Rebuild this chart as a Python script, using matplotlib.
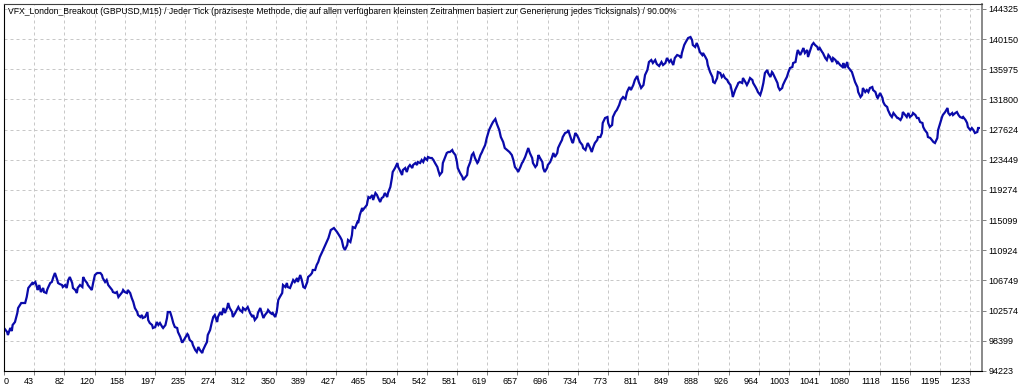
import numpy as np
import matplotlib
matplotlib.use('Agg')
import matplotlib.pyplot as plt

title = ("VFX_London_Breakout (GBPUSD,M15) / Jeder Tick (präziseste Methode, die auf allen "
         "verfügbaren kleinsten Zeitrahmen basiert zur Generierung jedes Ticksignals) / 90.00%")

x_labels = ['0', '43', '82', '120', '158', '197', '235', '274', '312', '350', '389', '427',
            '465', '504', '542', '581', '619', '657', '696', '734', '773', '811', '849', '888',
            '926', '964', '1003', '1041', '1080', '1118', '1156', '1195', '1233']
y_levels = [94223, 98399, 102574, 106749, 110924, 115099, 119274, 123449,
            127624, 131800, 135975, 140150, 144325]

# balance curve (trade number, balance)
trade_no = [
    0, 4, 5, 8, 10, 11, 14, 17, 18, 22, 24, 27, 29, 31, 33, 36, 37, 40, 42, 43, 45, 47, 50, 51, 54,
    55, 56, 59, 61, 63, 65, 68, 69, 71, 74, 75, 78, 80, 82, 84, 87, 88, 91, 93, 94, 97, 100, 101,
    103, 106, 107, 110, 112, 114, 116, 119, 123, 125, 126, 129, 131, 133, 135, 138, 139, 142, 144,
    146, 148, 151, 152, 154, 157, 158, 161, 163, 165, 167, 170, 171, 174, 176, 177, 180, 183, 184,
    186, 189, 190, 193, 195, 197, 199, 202, 203, 206, 208, 209,
    212, 214, 216, 218, 221, 222, 225, 227, 228, 231, 234, 235, 237, 240, 241, 244, 246, 248, 250,
    253, 254, 257, 259, 260, 263, 265, 267, 269, 272, 273, 276, 278, 280, 282, 285, 286, 288, 291,
    292, 295, 297, 299, 301, 304, 305, 308, 310, 311, 314, 317, 318, 320, 323, 324, 327, 329, 331,
    333, 336, 337, 340, 342, 343, 346, 348, 350, 352, 355, 356, 359, 361, 362, 365, 368, 369, 371,
    374, 375, 378, 380, 382, 384, 387, 388, 391, 393, 394, 397, 399, 401, 403,
    406, 410, 414, 417, 421, 425,
    429, 431, 433, 435, 438, 439, 442, 444, 445, 448, 451, 452, 454, 457, 458, 461, 463, 465, 467,
    470, 471, 474, 476, 477, 480, 482, 484, 486, 489, 490, 493, 495, 496, 499, 502, 503, 505, 508,
    509, 512, 514, 516, 518, 521, 522, 525, 527, 528, 531, 533, 535, 537, 540, 541, 544, 546, 548,
    550, 553, 554, 556, 559, 560, 563, 565, 567, 569, 572, 573, 576, 578, 579, 582, 585, 586, 588,
    591, 592, 595, 597, 599, 601, 604, 605, 608, 610, 611,
    614, 616, 619, 622, 624, 627, 629, 632, 634, 637, 639, 642, 645,
    648, 650, 652, 655, 656, 659, 661, 662, 665, 668, 669, 671, 674, 675, 678, 680, 682, 684, 687,
    688, 690, 693, 694, 697, 699, 701, 703, 706, 707, 710, 712, 713, 716, 719, 720, 722, 725, 726,
    729, 731, 733, 735, 738, 739, 742, 744, 745, 748, 750, 752, 754, 757, 758, 761, 763, 764, 767,
    770, 771, 773, 776, 777, 780, 782,
    785, 787, 790, 793, 795, 798, 800, 803, 805, 808, 810, 813, 816, 818, 821, 823, 826, 828, 831,
    833, 836, 839, 841, 844, 846, 849, 851, 854, 856, 859, 862,
    864, 865, 868, 870, 873, 876, 878, 879, 882, 884, 886, 888, 891, 892, 895, 897, 898, 901, 904,
    905, 907, 910, 911, 914, 916, 918, 920, 923, 924, 927, 929, 930, 933, 936, 937, 939, 942, 943,
    946, 948, 950, 952, 955, 956, 959, 961, 962, 965, 967, 969, 971, 974, 975, 978, 980, 981, 984,
    987, 988, 990, 993, 994, 997, 999, 1001, 1003, 1006, 1007, 1010, 1012, 1013, 1016, 1019, 1020,
    1022, 1025, 1026, 1029, 1031, 1033, 1035, 1038, 1039, 1041, 1044, 1045, 1048, 1050, 1052, 1054,
    1057, 1058, 1061, 1063, 1064, 1067, 1070, 1071, 1073, 1076, 1077, 1080,
    1082, 1084, 1086, 1089, 1090, 1093, 1095, 1096, 1099, 1101, 1103, 1105, 1108, 1109, 1112, 1114,
    1115, 1118, 1121, 1122, 1124, 1127, 1128, 1131, 1133, 1135, 1137, 1140, 1141, 1144, 1146, 1147,
    1150, 1152, 1154, 1156, 1159, 1160, 1163, 1165, 1167, 1169, 1172, 1173, 1175, 1178, 1179, 1182,
    1184, 1186, 1188, 1191, 1192, 1195, 1197, 1198, 1201, 1204, 1205, 1207, 1210, 1211, 1214, 1216,
    1218, 1220, 1223, 1224, 1227, 1229, 1230, 1233, 1235, 1237, 1239, 1242, 1243, 1244,
]

balance = [
    100173, 99619, 99204, 100173, 99758, 100588, 101003, 102249, 102941, 103633, 103633, 103633,
    104463, 105709, 105986, 106401, 106262, 106539, 105847, 105432, 106124, 105155, 105709, 105155,
    105017, 105432, 105709, 106401, 106539, 107231, 107785, 106816, 106401, 106262, 106124, 105847,
    106124, 105709, 106816, 107231, 106401, 105709, 105432, 105017, 105709, 106124, 105847, 107231,
    106816, 106401, 106124, 105709, 105432, 106539, 107508, 107785, 107785, 107508, 107093, 106539,
    106816, 106124, 105847, 105432, 105155, 105017, 105155, 104463, 104740, 105155, 105432, 105155,
    105017, 105432, 105017, 104325, 103771, 102941, 102387, 101972, 101695, 101972, 101557, 101695,
    102387, 101280, 100865, 100588, 100173, 100311, 101003, 100588, 100865, 100311, 100173, 100588,
    101557, 102387,
    102387, 101695, 100865, 100311, 100173, 99619, 98927, 98235, 98235, 98789, 99342, 99204, 98512,
    98235, 97820, 97128, 96851, 97543, 97128, 96713, 97128, 97820, 98235, 99204, 99896, 100865,
    101695, 101972, 101003, 101695, 102387, 101972, 102941, 102249, 103079, 103633, 102941, 102387,
    101695, 102249, 102664, 103079, 102664, 102387, 102941, 102664, 102941, 103079, 102249, 101695,
    101972, 101280, 101695, 102249, 102941, 102249, 101557, 101972, 102387, 102664, 102249, 102110,
    102249, 101695, 102387, 104048, 104463, 105017, 106124, 105847, 106401, 105847, 105709, 106539,
    106816, 106539, 107093, 106539, 107508, 106816, 105847, 105709, 106539, 107231, 107508, 107785,
    108200, 108200, 108892, 109307, 109999,
    110691, 111660, 112629, 113736, 114013, 113459,
    112767, 112352, 111383, 110968, 111660, 112352, 112075, 113044, 114151, 114013, 114843, 114705,
    115812, 116781, 116504, 116919, 117196, 118303, 118165, 118580, 117888, 118857, 118580, 118303,
    117611, 118165, 118303, 118857, 118303, 118857, 119687, 120933, 121763, 122317, 123009, 122455,
    122040, 121348, 122040, 122317, 121763, 122455, 122732, 122317, 122732, 123009, 122732, 123147,
    123009, 123424, 123147, 123701, 123424, 123839, 123701, 123701, 123424, 123009, 122455, 122040,
    121348, 121763, 123009, 123839, 124393, 124531, 124531, 124808, 124531, 124116, 123147, 122317,
    121625, 121071, 120656, 120933, 121348, 122317, 123147, 124116, 124393, 123701, 123009, 123147,
    124116, 124531, 124808,
    125500, 126469, 127576, 128268, 128683, 129098, 128406, 127576, 126607, 125915, 125085, 124808,
    124531,
    124116, 123424, 122455, 122040, 121763, 122455, 123009, 123147, 123839, 124808, 125085, 124393,
    123701, 123009, 122455, 122732, 124116, 123701, 123147, 122317, 121763, 122317, 122732, 123147,
    123701, 124393, 123839, 124393, 125085, 125777, 126192, 126607, 127161, 127299, 127576, 126884,
    125915, 125777, 127161, 126884, 126469, 125915, 125500, 125085, 124808, 125500, 125777, 125085,
    124531, 125223, 125777, 126192, 126607, 126607, 127161, 128545, 129237, 129375, 128545, 127991,
    128268, 129375, 130067, 130344,
    131036, 131728, 132143, 131866, 132835, 133527, 133112, 133804, 134496, 135050, 134219, 133389,
    133804, 135188, 135880, 136987, 137264, 136849, 137264, 136710, 136434, 136987, 136572, 136849,
    137541, 136987, 137264, 136572, 137541, 137956, 137818,
    137541, 138233, 139340, 139755, 140309, 140447, 140032, 139340, 139063, 139617, 139063, 138371,
    137956, 138233, 137679, 137264, 136572, 135603, 134911, 134219, 134081, 134773, 135603, 135465,
    134911, 135188, 134773, 134496, 134219, 133804, 132835, 132143, 133112, 133804, 134081, 134219,
    134081, 134773, 134219, 133804, 134219, 134773, 134496, 134081, 133527, 133112, 132835, 132420,
    133112, 134081, 135465, 135880, 135465, 134911, 135603, 135465, 134773, 134081, 133527, 133112,
    133389, 133804, 134496, 134911, 135603, 136157, 136295, 136849, 136987, 138233, 138648, 137956,
    138648, 138925, 138233, 138648, 137679, 138648, 139340, 139617, 139340, 139063, 138648, 138925,
    138371, 138233, 137541, 137264, 137956, 137679, 136987, 137541, 137264, 136849, 136987, 136572,
    136295, 136849, 136157, 136987, 136295, 135880,
    135603, 134911, 134219, 133527, 132835, 132143, 132420, 133389, 132835, 133112, 132835, 133389,
    133527, 133112, 132835, 132143, 132005, 132697, 132005, 131451, 131036, 130759, 130344, 129652,
    129375, 129929, 129652, 129237, 129237, 128960, 129375, 130067, 129652, 129375, 129929, 129375,
    129652, 129929, 129652, 129237, 129237, 128683, 128545, 127991, 127576, 127161, 126607, 126469,
    126192, 125915, 125777, 126469, 127576, 128683, 129375, 129652, 130067, 130621, 129929, 129652,
    129929, 129652, 129929, 130067, 129652, 129375, 129237, 129375, 128960, 128545, 127991, 127576,
    127853, 127576, 127161, 127299, 127853, 127853,
]

font = ['Liberation Sans', 'DejaVu Sans']

fig = plt.figure(figsize=(10.24, 3.87), dpi=100)
ax = fig.add_axes([4 / 1024, 16 / 387, 978 / 1024, 367 / 387])

ax.plot(trade_no, balance, color='#0a0aaa', linewidth=1.6, solid_joinstyle='miter')

ax.set_xlim(0, 1248)
ax.set_ylim(94223, 145016)

# grid lines are evenly spaced, MT4 writes rounded trade numbers under them
ax.set_xticks(np.arange(len(x_labels)) * 1233 / 32)
ax.set_xticklabels(x_labels, family=font, fontsize=6.5)
for i, lbl in enumerate(ax.get_xticklabels()):
    lbl.set_ha('left' if i == 0 else 'right')

ax.yaxis.tick_right()
ax.set_yticks(y_levels)
ax.set_yticklabels([str(v) for v in y_levels], family=font, fontsize=6.5)

ax.tick_params(axis='x', length=3, width=0.7, color='#808080', pad=1.5)
ax.tick_params(axis='y', length=3, width=0.7, color='#808080', pad=1.5)

ax.grid(True, color='#c8c8c8', linestyle=(0, (3, 3)), linewidth=0.72)
ax.set_axisbelow(True)

for side in ['left', 'bottom']:
    ax.spines[side].set_color('#000000')
    ax.spines[side].set_linewidth(0.8)
ax.spines['top'].set_color('#404040')
ax.spines['top'].set_linewidth(0.8)
ax.spines['right'].set_color('#808080')
ax.spines['right'].set_linewidth(1.3)

ax.text(4 / 978, 1 - 3 / 367, title, transform=ax.transAxes, ha='left', va='top',
        family=font, fontsize=6.25)

fig.savefig('out.png', dpi=100)
